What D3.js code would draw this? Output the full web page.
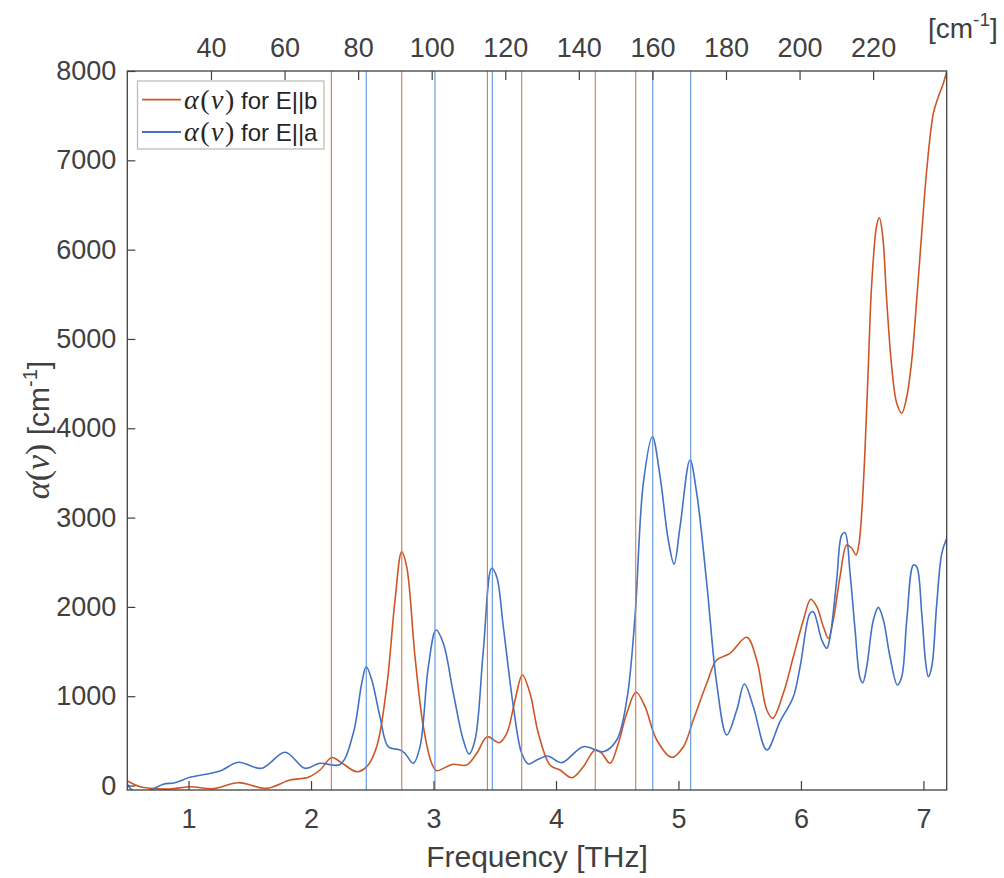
<!DOCTYPE html>
<html>
<head>
<meta charset="utf-8">
<script src="https://cdn.jsdelivr.net/npm/d3@7"></script>
<style>
  html, body { margin: 0; padding: 0; background: #fff; }
  svg { display: block; font-family: "Liberation Sans", Arial, Helvetica, sans-serif; }
  .math { font-family: "Liberation Serif", "DejaVu Serif", serif; }
</style>
</head>
<body>
<svg id="chart" width="1004" height="878"></svg>
<script>
// Absorption coefficient alpha(nu) [cm^-1] versus frequency [THz]

// E||b spectrum
const freqB = [0.500,0.604,0.685,0.849,1.012,1.202,1.406,1.638,1.828,1.978,2.073,2.169,2.237,2.373,2.455,2.536,2.618,2.686,2.740,2.781,2.849,2.917,2.985,3.026,3.108,3.162,3.271,3.353,3.439,3.535,3.598,3.666,3.725,3.788,3.856,3.951,4.033,4.129,4.223,4.319,4.374,4.441,4.509,4.578,4.654,4.727,4.823,4.945,5.040,5.121,5.231,5.312,5.421,5.557,5.639,5.721,5.770,5.856,5.938,6.020,6.080,6.129,6.183,6.224,6.264,6.319,6.374,6.415,6.450,6.474,6.496,6.523,6.550,6.578,6.619,6.640,6.668,6.700,6.741,6.782,6.823,6.864,6.905,6.945,6.986,7.027,7.081,7.122,7.158,7.190];
const alphaB = [51,-13,-31,-39,-13,-35,32,-31,62,92,174,314,267,155,211,435,1107,2077,2618,2450,1442,659,249,166,211,238,230,361,547,480,585,958,1238,1033,585,230,174,88,211,398,361,249,473,809,1044,883,510,316,435,734,1145,1405,1480,1660,1405,846,753,1033,1442,1853,2085,2002,1778,1648,1853,2338,2693,2656,2581,2712,3048,3757,4689,5623,6276,6357,6145,5436,4689,4279,4168,4353,4764,5436,6183,6892,7526,7712,7843,7992];

// E||a spectrum
const freqA = [0.500,0.530,0.600,0.691,0.794,0.889,1.012,1.257,1.406,1.597,1.788,1.951,2.073,2.237,2.345,2.414,2.451,2.496,2.563,2.631,2.727,2.767,2.835,2.890,2.958,3.021,3.080,3.162,3.243,3.290,3.339,3.407,3.475,3.516,3.570,3.652,3.720,3.774,3.843,3.924,3.951,4.047,4.223,4.387,4.496,4.578,4.645,4.713,4.787,4.850,4.917,4.964,5.013,5.094,5.149,5.231,5.312,5.394,5.476,5.538,5.611,5.721,5.829,5.938,5.993,6.074,6.101,6.170,6.211,6.238,6.292,6.333,6.360,6.401,6.442,6.483,6.505,6.537,6.591,6.632,6.673,6.727,6.787,6.823,6.864,6.918,6.945,6.986,7.019,7.040,7.068,7.109,7.150,7.190];
const alphaA = [20,-40,-90,-50,14,32,92,163,260,193,372,193,249,236,585,1145,1330,1182,771,435,398,361,249,435,1330,1741,1592,1033,510,353,510,1517,2432,2338,1778,883,361,241,286,331,323,256,435,379,510,958,1890,3384,3905,3458,2749,2480,2898,3645,3272,2264,1145,566,846,1137,883,398,715,995,1330,1928,1946,1629,1536,1666,2301,2805,2831,2376,1741,1201,1151,1330,1853,1995,1853,1442,1126,1219,1853,2469,2450,1928,1369,1219,1330,2040,2600,2768];

// Mode frequencies [THz] marked by vertical lines
const modesB = [2.166, 2.741, 3.440, 3.720, 4.321, 4.651];
const modesA = [2.451, 3.012, 3.480, 4.790, 5.100];

// Tick values
const xTicks = [1, 2, 3, 4, 5, 6, 7];
const yTicks = [0, 1000, 2000, 3000, 4000, 5000, 6000, 7000, 8000];
const wnTicks = [40, 60, 80, 100, 120, 140, 160, 180, 200, 220];

const colB = "#cc5626";
const colA = "#4471c4";
const colBLine = "#cd7c52";
const colALine = "#5b93da";
const axisCol = "#404040";

const svg = d3.select("#chart");
const L = 127.3, R = 946.7, T = 71, B = 790;

const x = d3.scaleLinear().domain([0.5, 7.19]).range([L, R]);
const y = d3.scaleLinear().domain([-50, 8000]).range([B, T]);
const xTop = d3.scaleLinear().domain([17.25, 240]).range([L, R]);

svg.append("defs").append("clipPath").attr("id", "plotClip")
  .append("rect").attr("x", L).attr("y", T).attr("width", R - L).attr("height", B - T);

const plot = svg.append("g").attr("clip-path", "url(#plotClip)");

const line = d3.line()
  .x(d => x(d[0]))
  .y(d => y(d[1]))
  .curve(d3.curveCatmullRom.alpha(0.5));

plot.append("path")
  .datum(d3.zip(freqB, alphaB))
  .attr("d", line)
  .attr("fill", "none")
  .attr("stroke", colB)
  .attr("stroke-width", 1.6);

plot.append("path")
  .datum(d3.zip(freqA, alphaA))
  .attr("d", line)
  .attr("fill", "none")
  .attr("stroke", colA)
  .attr("stroke-width", 1.6);

// Vertical mode markers
plot.selectAll("line.modeB").data(modesB).enter().append("line")
  .attr("class", "modeB")
  .attr("x1", d => x(d)).attr("x2", d => x(d))
  .attr("y1", T).attr("y2", B)
  .attr("stroke", colBLine).attr("stroke-width", 1.1);

plot.selectAll("line.modeA").data(modesA).enter().append("line")
  .attr("class", "modeA")
  .attr("x1", d => x(d)).attr("x2", d => x(d))
  .attr("y1", T).attr("y2", B)
  .attr("stroke", colALine).attr("stroke-width", 1.1);

// Axes
function styleAxis(g, fontSize) {
  g.select(".domain").remove();
  g.selectAll(".tick line").attr("stroke", axisCol).attr("stroke-width", 1.2);
  g.selectAll(".tick text").attr("fill", axisCol).attr("font-size", fontSize)
    .attr("font-family", "Liberation Sans, Arial, sans-serif");
}

const gx = svg.append("g").attr("transform", `translate(0,${B})`)
  .call(d3.axisBottom(x).tickValues(xTicks).tickFormat(d3.format("d"))
    .tickSizeInner(-9).tickSizeOuter(0).tickPadding(19));
styleAxis(gx, 27);

const gy = svg.append("g").attr("transform", `translate(${L},0)`)
  .call(d3.axisLeft(y).tickValues(yTicks).tickFormat(d3.format("d"))
    .tickSizeInner(-8).tickSizeOuter(0).tickPadding(11));
styleAxis(gy, 27);

const gt = svg.append("g").attr("transform", `translate(0,${T})`)
  .call(d3.axisTop(xTop).tickValues(wnTicks).tickFormat(d3.format("d"))
    .tickSizeInner(-9).tickSizeOuter(0).tickPadding(14));
styleAxis(gt, 27);

// Box
svg.append("rect")
  .attr("x", L).attr("y", T).attr("width", R - L).attr("height", B - T)
  .attr("fill", "none").attr("stroke", axisCol).attr("stroke-width", 1.3);

// Axis labels
svg.append("text")
  .attr("x", (L + R) / 2).attr("y", 867)
  .attr("text-anchor", "middle")
  .attr("font-size", 30).attr("fill", axisCol)
  .text("Frequency [THz]");

const yl = svg.append("text")
  .attr("transform", "translate(49,430) rotate(-90)")
  .attr("text-anchor", "middle")
  .attr("font-size", 30).attr("fill", axisCol);
yl.append("tspan").attr("class", "math").attr("font-style", "italic").attr("font-size", 34).text("α");
yl.append("tspan").attr("class", "math").attr("font-size", 34).text("(");
yl.append("tspan").attr("class", "math").attr("font-style", "italic").attr("font-size", 34).text("ν");
yl.append("tspan").attr("class", "math").attr("font-size", 34).text(")");
yl.append("tspan").text(" [cm");
yl.append("tspan").attr("font-size", 20).attr("dy", -12).text("-1");
yl.append("tspan").attr("dy", 12).text("]");

const tl = svg.append("text")
  .attr("x", 928).attr("y", 38)
  .attr("font-size", 28).attr("fill", axisCol);
tl.append("tspan").text("[cm");
tl.append("tspan").attr("font-size", 19).attr("dy", -12).text("-1");
tl.append("tspan").attr("dy", 12).text("]");

// Legend
const legend = svg.append("g");
legend.append("rect")
  .attr("x", 137.5).attr("y", 81).attr("width", 186.5).attr("height", 68)
  .attr("fill", "#fff").attr("stroke", "#bdbdbd").attr("stroke-width", 1.3);

const legendItems = [
  { label: " for E||b", color: colB, yy: 99.7 },
  { label: " for E||a", color: colA, yy: 132 }
];
legendItems.forEach(it => {
  legend.append("line")
    .attr("x1", 142).attr("x2", 181).attr("y1", it.yy).attr("y2", it.yy)
    .attr("stroke", it.color).attr("stroke-width", 1.8);
  const t = legend.append("text")
    .attr("x", 184).attr("y", it.yy + 9)
    .attr("font-size", 24).attr("fill", "#262626");
  t.append("tspan").attr("class", "math").attr("font-style", "italic").attr("font-size", 28).attr("letter-spacing", 1.5).text("α");
  t.append("tspan").attr("class", "math").attr("font-size", 28).attr("letter-spacing", 1.5).text("(");
  t.append("tspan").attr("class", "math").attr("font-style", "italic").attr("font-size", 28).attr("letter-spacing", 1.5).text("ν");
  t.append("tspan").attr("class", "math").attr("font-size", 28).text(")");
  t.append("tspan").text(it.label);
});
</script>
</body>
</html>
